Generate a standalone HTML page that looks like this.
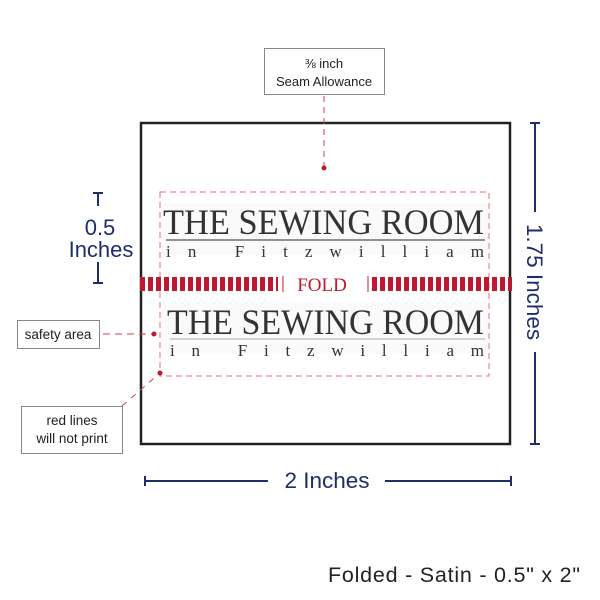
<!DOCTYPE html>
<html><head><meta charset="utf-8"><style>
html,body{margin:0;padding:0;background:#fff;}
svg{display:block;}
.s{font-family:"Liberation Sans",sans-serif;}
.t{font-family:"Liberation Serif",serif;fill:#333;}
</style></head><body>
<svg width="600" height="600" viewBox="0 0 600 600" xmlns="http://www.w3.org/2000/svg">
<rect x="141" y="123" width="369" height="321" fill="none" stroke="#222" stroke-width="2.5"/>
<rect x="160" y="192" width="329" height="184" fill="none" stroke="#e8707a" stroke-width="1" stroke-dasharray="6,4"/>
<rect x="162" y="203" width="326" height="52" fill="#fafafa"/>
<rect x="162" y="302" width="326" height="52" fill="#fafafa"/>
<!-- titles -->
<text class="t" x="163" y="234" font-size="36" textLength="321" lengthAdjust="spacingAndGlyphs">THE SEWING ROOM</text>
<line x1="166" y1="240" x2="485" y2="240" stroke="#555" stroke-width="1.2"/>
<text class="t" x="166" y="257" font-size="17" textLength="318" lengthAdjust="spacing">in    Fitzwilliam</text>
<text class="t" x="167" y="334" font-size="36" textLength="317" lengthAdjust="spacingAndGlyphs">THE SEWING ROOM</text>
<line x1="170" y1="339" x2="485" y2="339" stroke="#bbb" stroke-width="1.2"/>
<text class="t" x="170" y="356" font-size="17" textLength="314" lengthAdjust="spacing">in    Fitzwilliam</text>
<!-- fold -->
<line x1="140" y1="284" x2="278" y2="284" stroke="#c0182e" stroke-width="14" stroke-dasharray="5,3"/>
<line x1="283" y1="276" x2="283" y2="292" stroke="#c0182e" stroke-width="1"/>
<text x="322" y="291" font-size="19" fill="#c0182e" text-anchor="middle" font-family="Liberation Serif, serif">FOLD</text>
<line x1="368" y1="276" x2="368" y2="292" stroke="#c0182e" stroke-width="1"/>
<line x1="372" y1="284" x2="512" y2="284" stroke="#c0182e" stroke-width="14" stroke-dasharray="5,3"/>
<!-- seam allowance -->
<rect x="264.5" y="48.5" width="120" height="46" fill="#fff" stroke="#888"/>
<text class="s" x="324" y="68" font-size="13" fill="#222" text-anchor="middle">⅜ inch</text>
<text class="s" x="324" y="86" font-size="13" fill="#222" text-anchor="middle">Seam Allowance</text>
<line x1="324" y1="96" x2="324" y2="168" stroke="#d04050" stroke-dasharray="6,5"/>
<circle cx="324" cy="168" r="2.5" fill="#c0182e"/>
<!-- safety area -->
<rect x="17.5" y="320.5" width="82" height="28" fill="#fff" stroke="#888"/>
<text class="s" x="58" y="339" font-size="13.5" fill="#222" text-anchor="middle">safety area</text>
<line x1="103" y1="334" x2="154" y2="334" stroke="#d04050" stroke-dasharray="7,5"/>
<circle cx="154" cy="334" r="2.5" fill="#c0182e"/>
<!-- red lines -->
<rect x="21.5" y="406.5" width="101" height="47" fill="#fff" stroke="#888"/>
<text class="s" x="72" y="425" font-size="13.5" fill="#222" text-anchor="middle">red lines</text>
<text class="s" x="72" y="443" font-size="13.5" fill="#222" text-anchor="middle">will not print</text>
<line x1="122" y1="406" x2="160" y2="373" stroke="#d04050" stroke-dasharray="6,6"/>
<circle cx="160" cy="373" r="2.5" fill="#c0182e"/>
<!-- 0.5 inches -->
<g stroke="#1f2d6b" stroke-width="2">
<line x1="98" y1="193" x2="98" y2="206"/><line x1="93" y1="193" x2="103" y2="193"/>
<line x1="98" y1="262" x2="98" y2="283"/><line x1="93" y1="283" x2="103" y2="283"/>
</g>
<text class="s" x="100" y="235" font-size="22" fill="#1f2d6b" text-anchor="middle">0.5</text>
<text class="s" x="101" y="257" font-size="22" fill="#1f2d6b" text-anchor="middle">Inches</text>
<!-- 1.75 -->
<g stroke="#1f2d6b" stroke-width="2">
<line x1="535" y1="123" x2="535" y2="212"/><line x1="530" y1="123" x2="540" y2="123"/>
<line x1="535" y1="352" x2="535" y2="444"/><line x1="530" y1="444" x2="540" y2="444"/>
</g>
<text class="s" transform="translate(527,282) rotate(90)" font-size="22.5" fill="#1f2d6b" text-anchor="middle">1.75 Inches</text>
<!-- 2 inches -->
<g stroke="#1f2d6b" stroke-width="2">
<line x1="145" y1="481" x2="268" y2="481"/><line x1="145" y1="476" x2="145" y2="486"/>
<line x1="385" y1="481" x2="511" y2="481"/><line x1="511" y1="476" x2="511" y2="486"/>
</g>
<text class="s" x="327" y="488" font-size="22.5" fill="#1f2d6b" text-anchor="middle">2 Inches</text>
<text class="s" x="328" y="582" font-size="21.5" fill="#222" textLength="252" lengthAdjust="spacing">Folded - Satin - 0.5" x 2"</text>
</svg>
</body></html>
